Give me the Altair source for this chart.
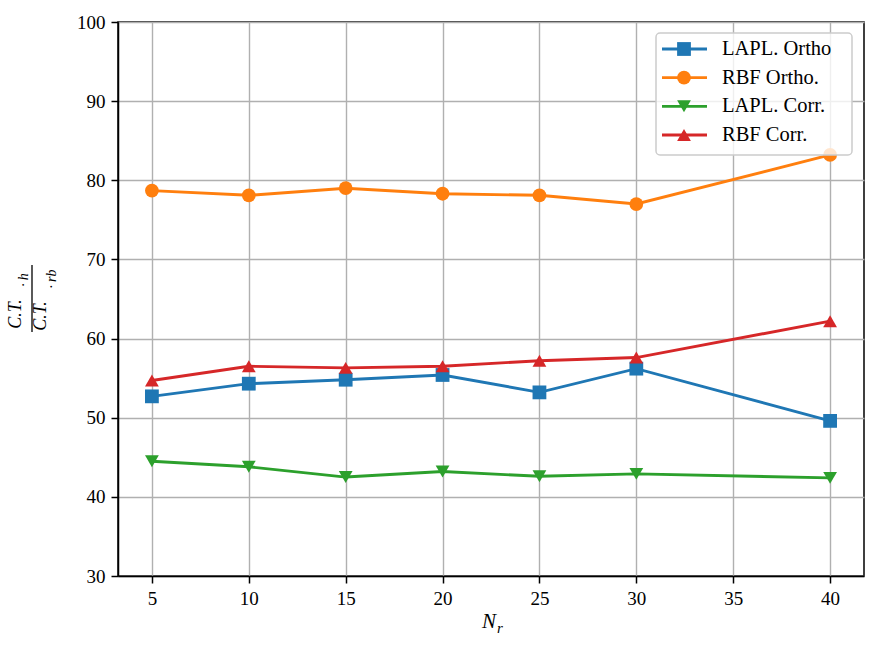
import altair as alt
import pandas as pd

# Number of retained modes
n_r = [5, 10, 15, 20, 25, 30, 40]

# Computation-time ratios for each method
lapl_ortho = [52.7, 54.3, 54.8, 55.4, 53.2, 56.2, 49.6]
rbf_ortho = [78.7, 78.1, 79.0, 78.3, 78.1, 77.0, 83.2]
lapl_corr = [44.5, 43.8, 42.5, 43.2, 42.6, 42.9, 42.4]
rbf_corr = [54.7, 56.5, 56.3, 56.5, 57.2, 57.6, 62.2]

series_names = ["LAPL. Ortho", "RBF Ortho.", "LAPL. Corr.", "RBF Corr."]
series_colors = ["#1f77b4", "#ff7f0e", "#2ca02c", "#d62728"]
series_shapes = ["square", "circle", "triangle-down", "triangle-up"]

x_ticks = [5, 10, 15, 20, 25, 30, 35, 40]
y_ticks = [30, 40, 50, 60, 70, 80, 90, 100]

FONT = "Liberation Serif"
W, H = 746, 554

rows = []
for name, vals in zip(series_names, [lapl_ortho, rbf_ortho, lapl_corr, rbf_corr]):
    for xv, yv in zip(n_r, vals):
        rows.append({"series": name, "Nr": xv, "ratio": yv})
df = pd.DataFrame(rows)

color = alt.Color("series:N", scale=alt.Scale(domain=series_names, range=series_colors), legend=None)
shape = alt.Shape("series:N", scale=alt.Scale(domain=series_names, range=series_shapes), legend=None)

axis_style = dict(
    title=None, grid=True, labelFont=FONT, labelFontSize=19, labelColor="black",
    tickColor="black", tickSize=7, tickWidth=1.5, domainColor="black", domainWidth=1.5,
    labelPadding=6, gridColor="#b0b0b0", gridWidth=1.4,
)
x_enc = alt.X("Nr:Q", scale=alt.Scale(domain=[3.25, 41.75], nice=False, zero=False),
              axis=alt.Axis(values=x_ticks, **axis_style))
y_enc = alt.Y("ratio:Q", scale=alt.Scale(domain=[30, 100], nice=False, zero=False),
              axis=alt.Axis(values=y_ticks, **axis_style))

base = alt.Chart(df)
lines = base.mark_line(strokeWidth=2.9).encode(x=x_enc, y=y_enc, color=color, detail="series:N")
points = base.mark_point(filled=True, opacity=1, size=190).encode(
    x=x_enc, y=y_enc, color=color, shape=shape
)
main = alt.layer(lines, points)

# Legend box drawn as its own layer
leg_df = pd.DataFrame({"series": series_names, "rank": [0, 1, 2, 3]})
leg_y = alt.Y("rank:Q", scale=alt.Scale(domain=[0, 3], range=[27, 113]), axis=None)
leg_base = alt.Chart(leg_df)
frame = alt.Chart(alt.Data(values=[{}])).mark_rect(
    fill="white", fillOpacity=0.8, stroke="#cccccc", strokeWidth=1.5, cornerRadius=4
).encode(x=alt.value(538), x2=alt.value(734), y=alt.value(11), y2=alt.value(133))
leg_lines = leg_base.mark_rule(strokeWidth=2.9).encode(
    x=alt.value(544), x2=alt.value(589), y=leg_y, color=color
)
leg_pts = leg_base.mark_point(filled=True, opacity=1, size=190).encode(
    x=alt.value(566), y=leg_y, color=color, shape=shape
)
leg_text = leg_base.mark_text(align="left", baseline="middle", font=FONT, fontSize=20.5, color="black").encode(
    x=alt.value(604), y=leg_y, text="series:N"
)
legend = alt.layer(frame, leg_lines, leg_pts, leg_text)


def label(txt, x, y, size=19, angle=0, italic=True):
    return alt.Chart(alt.Data(values=[{}])).mark_text(
        text=txt, font=FONT, fontSize=size, fontStyle="italic" if italic else "normal",
        color="black", angle=angle, align="center", baseline="middle"
    ).encode(x=alt.value(x), y=alt.value(y))


# Axis titles: N_r and the C.T._h / C.T._rb fraction
x_title = alt.layer(label("N", 371, 600, size=21), label("r", 382, 606, size=15))
y_title = alt.layer(
    label("C.T.", -102, 292, size=18, angle=270),
    label("·\u2009h", -94, 258, size=14, angle=270),
    alt.Chart(alt.Data(values=[{}])).mark_rule(color="black", strokeWidth=1.3).encode(
        x=alt.value(-86), y=alt.value(243), y2=alt.value(310)
    ),
    label("C.T.", -77, 294, size=18, angle=270),
    label("·\u2009rb", -66, 257, size=14, angle=270),
)

chart = (
    alt.layer(main, legend, x_title, y_title)
    .resolve_scale(y="independent")
    .properties(
        width=W,
        height=H,
        padding={"left": 118, "top": 22, "right": 22, "bottom": 80},
        autosize=alt.AutoSizeParams(type="none"),
        background="white",
    )
    .configure_view(stroke="black", strokeWidth=1.5)
)

chart.save("out.html", embed_options={"renderer": "svg", "actions": False})
